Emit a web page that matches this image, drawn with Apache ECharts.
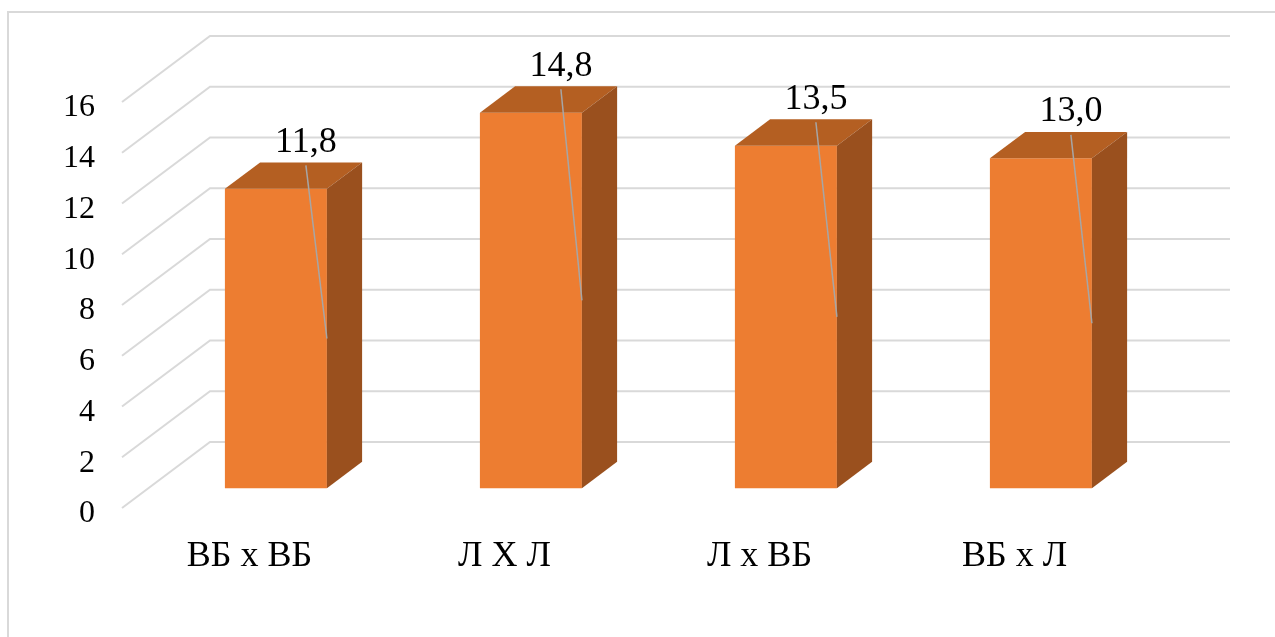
<!DOCTYPE html>
<html><head><meta charset="utf-8">
<script src="https://cdn.jsdelivr.net/npm/echarts@6/dist/echarts.min.js"></script>
<style>html,body{margin:0;padding:0;background:#fff}#c{width:1275px;height:637px}</style>
</head><body><div id="c"></div>
<script>
const categories = ['ВБ х ВБ', 'Л Х Л', 'Л х ВБ', 'ВБ х Л'];
const values = [11.8, 14.8, 13.5, 13.0];
const yTicks = [0, 2, 4, 6, 8, 10, 12, 14, 16];

const FONT = '"Liberation Serif", "Times New Roman", serif';
const DEPTH = [88, -66];
const F1 = 0.30, F2 = 0.70;
const BAR_W = 0.4;

function fmt(v) { return v.toFixed(1).replace('.', ','); }

const chart = echarts.init(document.getElementById('c'), null, { renderer: 'canvas' });

const option = {
  animation: false,
  backgroundColor: '#fff',
  grid: { left: 122, right: 133, top: 102, bottom: 129 },
  xAxis: {
    type: 'category', data: categories,
    axisLine: { show: false }, axisTick: { show: false },
    axisLabel: { fontFamily: FONT, fontSize: 36, color: '#000', margin: 31 }
  },
  yAxis: {
    type: 'value', min: 0, max: yTicks[yTicks.length - 1], interval: yTicks[1] - yTicks[0],
    axisLine: { show: false }, axisTick: { show: false }, splitLine: { show: false },
    axisLabel: {
      margin: 27,
      formatter: '{a|{value}}',
      rich: { a: { fontFamily: FONT, fontSize: 32, color: '#000', padding: [12, 0, 0, 0] } }
    }
  },
  graphic: [{
    type: 'rect', silent: true, z: -10,
    shape: { x: 8, y: 12, width: 1300, height: 700 },
    style: { fill: null, stroke: '#D9D9D9', lineWidth: 2 }
  }],
  series: [
    {
      type: 'custom', name: 'walls', silent: true, z: 1,
      data: yTicks.map(v => [0, v]),
      renderItem(params, api) {
        const cs = params.coordSys;
        const y = api.coord([0, api.value(1)])[1];
        const x0 = cs.x, x1 = cs.x + cs.width;
        return {
          type: 'polyline',
          shape: { points: [[x0, y], [x0 + DEPTH[0], y + DEPTH[1]], [x1 + DEPTH[0], y + DEPTH[1]]] },
          style: { stroke: '#D9D9D9', lineWidth: 2, fill: null }
        };
      }
    },
    {
      type: 'custom', name: 'bars', z: 2,
      data: values.map((v, i) => [i, v]),
      renderItem(params, api) {
        const i = api.value(0), v = api.value(1);
        const base = api.coord([i, 0]), top = api.coord([i, v]);
        const band = api.size([1, 0])[0];
        const w = band * BAR_W;
        const fx = F1 * DEPTH[0], fy = F1 * DEPTH[1];
        const dx = (F2 - F1) * DEPTH[0], dy = (F2 - F1) * DEPTH[1];
        const xl = base[0] - w / 2 + fx, xr = xl + w;
        const yb = base[1] + fy, yt = top[1] + fy;
        const lx = base[0] + fx + 30;
        const ly = yt + dy - 20;
        return {
          type: 'group',
          children: [
            { type: 'rect', shape: { x: xl, y: yt, width: w, height: yb - yt }, style: { fill: '#ED7D31' } },
            { type: 'polygon', shape: { points: [[xl, yt], [xr, yt], [xr + dx, yt + dy], [xl + dx, yt + dy]] }, style: { fill: '#B45F22' } },
            { type: 'polygon', shape: { points: [[xr, yt], [xr, yb], [xr + dx, yb + dy], [xr + dx, yt + dy]] }, style: { fill: '#9A501E' } },
            { type: 'line', shape: { x1: lx, y1: ly + 23, x2: xr, y2: (yt + yb) / 2 }, style: { stroke: '#A6A6A6', lineWidth: 1.5 } },
            { type: 'text', x: lx, y: ly, style: { text: fmt(v), font: '36px ' + FONT, fill: '#000', align: 'center', verticalAlign: 'middle' } }
          ]
        };
      }
    }
  ]
};
chart.setOption(option);
</script>
</body></html>
